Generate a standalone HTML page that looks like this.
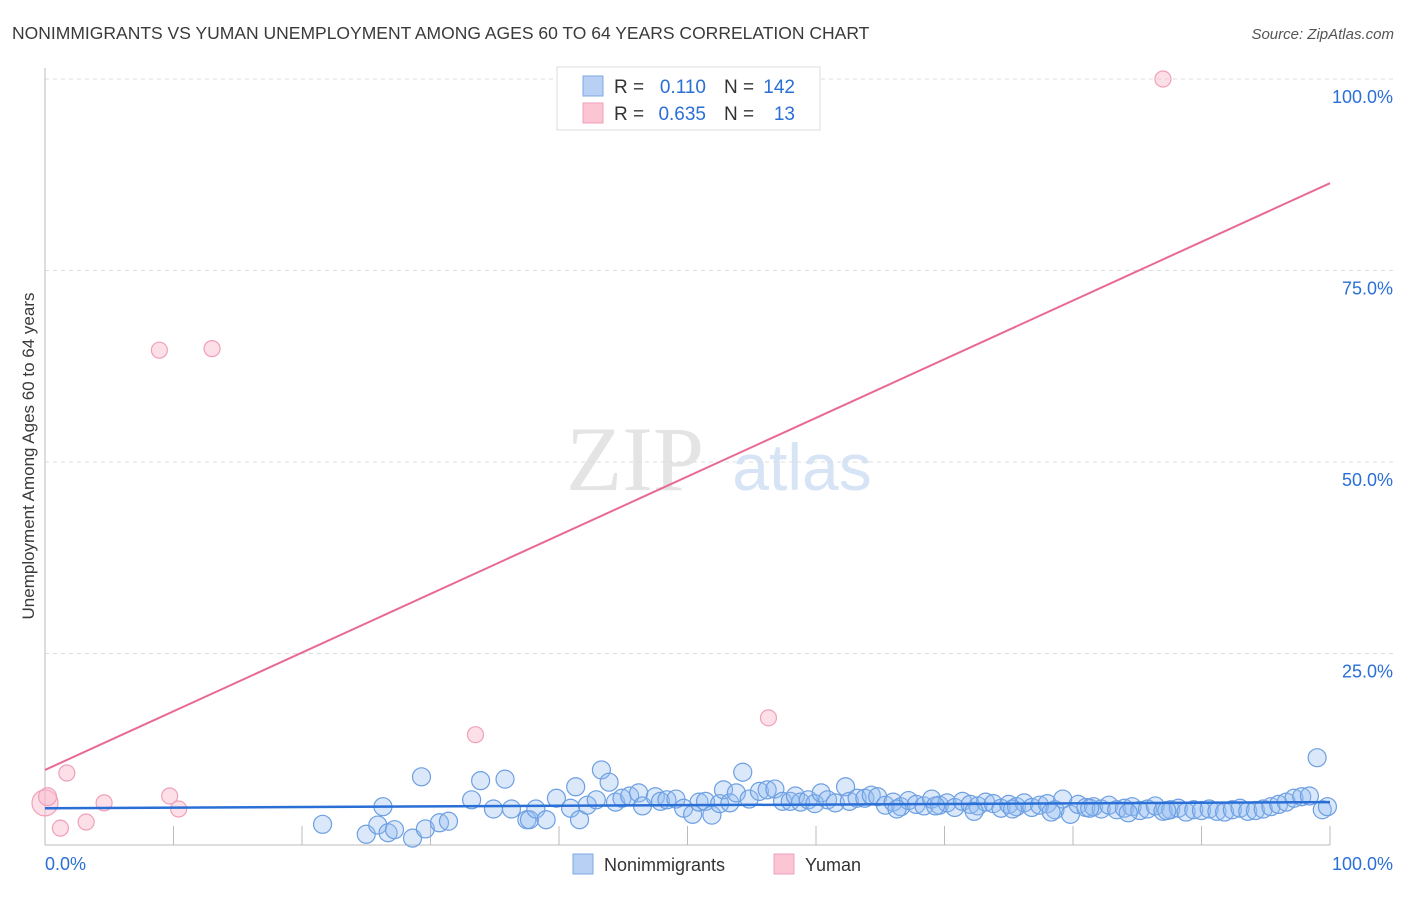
<!DOCTYPE html>
<html><head><meta charset="utf-8"><style>
body{margin:0;background:#fff;font-family:"Liberation Sans",sans-serif;}
</style></head><body>
<svg width="1406" height="892" xmlns="http://www.w3.org/2000/svg" font-family="Liberation Sans, sans-serif">
<text x="12" y="39" font-size="17.5" fill="#3a3a3a">NONIMMIGRANTS VS YUMAN UNEMPLOYMENT AMONG AGES 60 TO 64 YEARS CORRELATION CHART</text>
<text x="1394" y="39" font-size="15" fill="#555" text-anchor="end" font-style="italic">Source: ZipAtlas.com</text>
<g>
<text x="635" y="490" font-size="92" fill="#e4e4e4" text-anchor="middle" font-family="Liberation Serif, serif">ZIP</text>
<text x="802" y="490" font-size="66" fill="#d6e4f6" text-anchor="middle">atlas</text>
</g>
<g id="grid"></g>
<g id="axes"></g>
<g id="marks"></g>
<text transform="translate(34,456) rotate(-90)" font-size="17" fill="#3a3a3a" text-anchor="middle">Unemployment Among Ages 60 to 64 years</text>
<g>
<rect x="557" y="67" width="263" height="63" fill="#fff" stroke="#ddd"/>
<rect x="583" y="76" width="20" height="20" fill="#b7d0f4" stroke="#7fa8e0"/>
<rect x="583" y="103" width="20" height="20" fill="#fbc5d4" stroke="#f0a0b8"/>
<text x="614" y="93" font-size="19" fill="#333">R =</text>
<text x="706" y="93" font-size="19" fill="#2a6fd6" text-anchor="end">0.110</text>
<text x="724" y="93" font-size="19" fill="#333">N =</text>
<text x="795" y="93" font-size="19" fill="#2a6fd6" text-anchor="end">142</text>
<text x="614" y="120" font-size="19" fill="#333">R =</text>
<text x="706" y="120" font-size="19" fill="#2a6fd6" text-anchor="end">0.635</text>
<text x="724" y="120" font-size="19" fill="#333">N =</text>
<text x="795" y="120" font-size="19" fill="#2a6fd6" text-anchor="end">13</text>
</g>
<g>
<rect x="573" y="854" width="20" height="20" fill="#b7d0f4" stroke="#7fa8e0"/>
<text x="604" y="871" font-size="18" fill="#333">Nonimmigrants</text>
<rect x="774" y="854" width="20" height="20" fill="#fbc5d4" stroke="#f0a0b8"/>
<text x="805" y="871" font-size="18" fill="#333">Yuman</text>
</g>
</svg>
<script>
const yTicks=[25,50,75,100];
const yTickLabels=["25.0%","50.0%","75.0%","100.0%"];
const xTicks=[0,10,20,30,40,50,60,70,80,90,100];
const blueX=[21.6,25,25.9,26.3,26.7,27.2,28.6,29.3,29.6,30.7,31.4,33.2,33.9,34.9,35.8,36.3,37.5,37.7,38.2,39,39.8,40.9,41.3,41.6,42.2,42.9,43.3,43.9,44.4,44.9,45.5,46.2,46.5,47.5,47.9,48.4,49.1,49.7,50.4,50.9,51.4,51.9,52.5,52.8,53.3,53.8,54.3,54.8,55.6,56.2,56.8,57.4,58,58.4,58.8,59.4,59.9,60.4,60.9,61.5,62.3,62.6,63.2,63.8,64.3,64.8,
65.4,66,66.6,67.2,67.8,68.4,69,69.6,70.2,70.8,71.4,72,72.6,73.2,73.8,74.4,75,75.6,76.2,76.8,77.4,78,78.6,79.2,79.8,80.4,81,81.6,82.2,82.8,83.4,84,84.6,85.2,85.8,86.4,87,87.6,88.2,88.8,89.4,90,90.6,91.2,91.8,92.4,93,93.6,94.2,94.8,95.4,96,96.6,97.2,97.8,98.4,99,99.4,99.8,66.3,69.3,72.3,75.3,78.3,81.3,84.3,87.3,90.3,93.3];
const blueY=[2.7,1.4,2.6,5.0,1.6,2.0,0.9,8.9,2.1,2.9,3.1,5.9,8.4,4.7,8.6,4.7,3.3,3.3,4.7,3.3,6.1,4.8,7.6,3.3,5.2,5.9,9.8,8.2,5.6,6.1,6.4,6.8,5.1,6.3,5.7,5.9,6.0,4.8,4.0,5.6,5.7,3.9,5.4,7.2,5.5,6.8,9.5,6.0,7.0,7.2,7.3,5.7,5.7,6.4,5.6,5.9,5.4,6.8,5.9,5.5,7.6,5.7,6.1,6.1,6.5,6.3,
5.2,5.6,5.0,5.8,5.3,5.1,6.0,5.2,5.5,4.9,5.7,5.3,5.1,5.6,5.4,4.8,5.3,5.0,5.5,4.9,5.2,5.4,4.6,6.0,4.0,5.3,4.9,5.0,4.7,5.2,4.6,4.8,5.0,4.5,4.7,5.1,4.4,4.6,4.8,4.3,4.6,4.5,4.7,4.4,4.3,4.6,4.8,4.4,4.5,4.7,5.0,5.3,5.6,6.1,6.3,6.4,11.4,4.6,5.0,4.7,5.1,4.4,4.7,4.3,4.8,4.2,4.5];
const pinkX=[0,0.2,1.2,1.7,3.2,4.6,8.9,9.7,10.4,13,33.5,56.3,87];
const pinkY=[5.5,6.3,2.2,9.4,3.0,5.5,64.6,6.4,4.7,64.8,14.4,16.6,100];
const pinkR=[13,9,8,8,8,8,8,8,8,8,8,8,8];
const blueTrend=[4.8,5.6];
const pinkTrend=[9.8,86.4];
const NS="http://www.w3.org/2000/svg";
const X=v=>45+v*12.85, Y=v=>845-v*7.66;
function mk(t,a,p){const e=document.createElementNS(NS,t);for(const k in a)e.setAttribute(k,a[k]);p.appendChild(e);return e;}
const grid=document.getElementById('grid'),axes=document.getElementById('axes'),marks=document.getElementById('marks');
yTicks.forEach((v,i)=>{
 const l=mk('line',{x1:45,x2:1393,y1:Y(v),y2:Y(v),stroke:'#ddd','stroke-dasharray':'4,4'},grid);
 
 
 const t=mk('text',{x:1393,y:Y(v)+24,'font-size':18,fill:'#2a6fd6','text-anchor':'end'},axes);
 t.textContent=yTickLabels[i];
 
 
});
const ax=mk('line',{x1:45,x2:1330,y1:845,y2:845,stroke:'#bbb'},axes);


const ay=mk('line',{x1:45,x2:45,y1:68,y2:845,stroke:'#bbb'},axes);


xTicks.forEach(v=>{const l=mk('line',{x1:X(v),x2:X(v),y1:826,y2:845,stroke:'#bbb'},axes);
 
 });
const t0=mk('text',{x:45,y:870,'font-size':18,fill:'#2a6fd6'},axes);t0.textContent='0.0%';


const t1=mk('text',{x:1393,y:870,'font-size':18,fill:'#2a6fd6','text-anchor':'end'},axes);t1.textContent='100.0%';


const nB=Math.min(blueX.length,blueY.length);
for(let i=0;i<nB;i++){const c=mk('circle',{cx:X(blueX[i]),cy:Y(blueY[i]),r:9,fill:'rgba(150,190,240,0.35)',stroke:'#6d9fe2','stroke-width':1.2},marks);
 
 }
pinkX.forEach((v,i)=>{const c=mk('circle',{cx:X(v),cy:Y(pinkY[i]),r:pinkR[i],fill:'rgba(250,185,205,0.45)',stroke:'#f0a0b8','stroke-width':1.2},marks);
 
 });
const bl=mk('line',{x1:X(0),x2:X(100),y1:Y(blueTrend[0]),y2:Y(blueTrend[1]),stroke:'#2a6fd6','stroke-width':2.5},marks);


const pl=mk('line',{x1:X(0),x2:X(100),y1:Y(pinkTrend[0]),y2:Y(pinkTrend[1]),stroke:'#e86a94','stroke-width':2},marks);


</script>
</body></html>
